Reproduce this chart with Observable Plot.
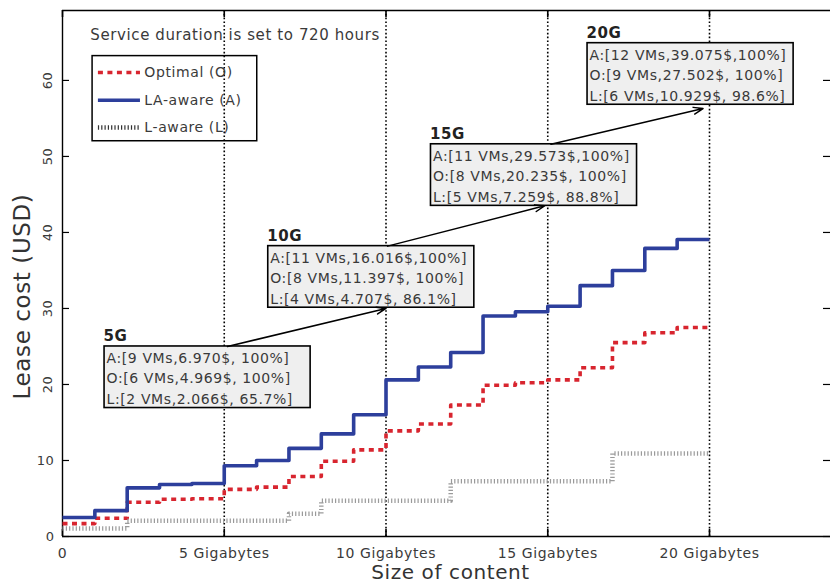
<!DOCTYPE html>
<html><head><meta charset="utf-8">
<script src="https://cdn.jsdelivr.net/npm/d3@7"></script>
<script src="https://cdn.jsdelivr.net/npm/@observablehq/plot@0.6"></script>
<style>
body{margin:0;background:#fff;}
#chart svg{display:block;}
</style></head><body><div id="chart"></div>
<script>
// ---- data ----
const contentSizes = [0,1,2,3,4,5,6,7,8,9,10,11,12,13,14,15,16,17,18,19,20]; // Gigabytes
// lease cost (USD) held on each 1-GB step [k, k+1)
const costOptimal = [1.7, 2.4, 4.5, 4.9, 4.969, 6.2, 6.5, 7.9, 9.9, 11.397, 13.9, 14.8, 17.3, 19.9, 20.235, 20.6, 22.2, 25.5, 26.8, 27.502];
const costLAaware = [2.5, 3.4, 6.4, 6.85, 6.97, 9.3, 10.0, 11.6, 13.5, 16.016, 20.6, 22.3, 24.2, 29.0, 29.573, 30.3, 33.0, 35.0, 37.9, 39.075];
const costLaware  = [1.05, 1.05, 2.066, 2.066, 2.066, 2.066, 2.066, 3.0, 4.707, 4.707, 4.707, 4.707, 7.259, 7.259, 7.259, 7.259, 7.259, 10.929, 10.929, 10.929];
const seriesNames = ["Optimal (O)", "LA-aware (A)", "L-aware (L)"];

const xTickValues = [0, 5, 10, 15, 20];
const xTickLabels = ["0", "5 Gigabytes", "10 Gigabytes", "15 Gigabytes", "20 Gigabytes"];
const yTickValues = [0, 10, 20, 30, 40, 50, 60];

const noteTitle = "Service duration is set to 720 hours";
const annotLabels = ["5G", "10G", "15G", "20G"];
const annotA = ["A:[9 VMs,6.970$, 100%]", "A:[11 VMs,16.016$,100%]", "A:[11 VMs,29.573$,100%]", "A:[12 VMs,39.075$,100%]"];
const annotO = ["O:[6 VMs,4.969$, 100%]", "O:[8 VMs,11.397$, 100%]", "O:[8 VMs,20.235$, 100%]", "O:[9 VMs,27.502$, 100%]"];
const annotL = ["L:[2 VMs,2.066$, 65.7%]", "L:[4 VMs,4.707$, 86.1%]", "L:[5 VMs,7.259$, 88.8%]", "L:[6 VMs,10.929$, 98.6%]"];

// ---- layout (annotation placement in data units) ----
const boxLeft = [1.3, 6.36, 11.39, 16.23];
const boxTop = [25.0, 38.2, 51.6, 64.9];
const boxW = 6.37, boxH = 8.1;
const arrowFrom = [[5.1, 25.0], [10.05, 38.2], [15.1, 51.6]];
const arrowTo = [[10.0, 30.0], [14.9, 43.5], [19.8, 56.3]];
const xMax = 23.74, yMax = 69.2;

const styles = {
  "Optimal (O)": {stroke: "#d8252f", strokeWidth: 3.6, strokeDasharray: "5,4.5", strokeLinecap: "butt"},
  "LA-aware (A)": {stroke: "#2d3f9c", strokeWidth: 3.6, strokeLinecap: "butt"},
  "L-aware (L)": {stroke: "#9a9a9a", strokeWidth: 4.5, strokeDasharray: "1.2,2.1", strokeLinecap: "butt"}
};

function steps(vals) {
  const pts = vals.map((v, i) => ({x: contentSizes[i], y: v}));
  pts.push({x: contentSizes[vals.length], y: vals[vals.length - 1]});
  return pts;
}
const seriesData = {
  "Optimal (O)": steps(costOptimal),
  "LA-aware (A)": steps(costLAaware),
  "L-aware (L)": steps(costLaware)
};

const boxes = annotLabels.map((lab, i) => ({
  label: lab, x1: boxLeft[i], x2: boxLeft[i] + boxW, y1: boxTop[i] - boxH, y2: boxTop[i],
  text: [annotA[i], annotO[i], annotL[i]].join("\n")
}));
const arrows = arrowFrom.map((f, i) => ({x1: f[0], y1: f[1], x2: arrowTo[i][0], y2: arrowTo[i][1]}));

const legendRows = [61.05, 57.4, 53.8];
const legendItems = seriesNames.map((n, i) => ({name: n, y: legendRows[i]}));

const txt = "#3a3a3a";
const font = "DejaVu Sans";

const chart = Plot.plot({
  width: 830, height: 582,
  marginLeft: 62, marginRight: 0, marginTop: 10, marginBottom: 46,
  x: {domain: [0, xMax], axis: null},
  y: {domain: [0, yMax], axis: null},
  style: {fontFamily: font, background: "white", letterSpacing: "0.6px"},
  marks: [
    // dotted vertical grid
    Plot.ruleX(xTickValues.slice(1), {stroke: "black", strokeWidth: 1.6, strokeDasharray: "1.6,2.2"}),
    // frame (left, bottom, top)
    Plot.ruleX([0], {stroke: "black", strokeWidth: 1.4}),
    Plot.ruleY([0, yMax], {stroke: "black", strokeWidth: 1.4}),
    // inward ticks
    Plot.tickY(yTickValues, {y: d => d, insetRight: 761, stroke: "black", strokeWidth: 1.2}),
    Plot.tickY(yTickValues, {y: d => d, insetLeft: 761, stroke: "black", strokeWidth: 1.2}),
    Plot.tickX(xTickValues, {x: d => d, insetTop: 519, stroke: "black", strokeWidth: 1.6}),
    Plot.tickX(xTickValues, {x: d => d, insetBottom: 519, stroke: "black", strokeWidth: 1.6}),
    // tick labels
    Plot.text(xTickValues, {x: d => d, frameAnchor: "bottom", dy: 21, text: (d, i) => xTickLabels[i], fontSize: 14, fill: txt}),
    Plot.text(yTickValues.filter(d => d <= 10), {y: d => d, frameAnchor: "left", dx: -8, textAnchor: "end", text: d => String(d), fontSize: 13, fill: txt}),
    Plot.text(yTickValues.filter(d => d > 10), {y: d => d, frameAnchor: "left", dx: -15, rotate: -90, textAnchor: "middle", text: d => String(d), fontSize: 13, fill: txt}),
    // axis titles
    Plot.text(["Lease cost (USD)"], {frameAnchor: "left", dx: -40, dy: 23, rotate: -90, textAnchor: "middle", fontSize: 23, fill: "#333"}),
    Plot.text(["Size of content"], {frameAnchor: "bottom", dx: 4, dy: 42, fontSize: 20, fill: "#333"}),
    // note + legend
    Plot.text([noteTitle], {x: 0.86, y: 65.9, textAnchor: "start", fontSize: 15, fill: txt}),
    Plot.rect([{}], {x1: 0.93, x2: 6.02, y1: 52.0, y2: 63.2, fill: "none", stroke: "black", strokeWidth: 1.5}),
    ...legendItems.map(it => Plot.ruleY([it], {y: "y", x1: 1.11, x2: 2.41, ...styles[it.name],
      stroke: it.name === "L-aware (L)" ? "#333" : styles[it.name].stroke})),
    Plot.text(legendItems, {x: 2.53, y: "y", text: "name", textAnchor: "start", fontSize: 14, fill: txt}),
    // series
    ...seriesNames.map(n => Plot.line(seriesData[n], {x: "x", y: "y", curve: "step-after", ...styles[n]})),
    // annotations
    Plot.rect(boxes, {x1: "x1", x2: "x2", y1: "y1", y2: "y2", fill: "#efefef", stroke: "black", strokeWidth: 1.6}),
    Plot.text(boxes, {x: "x1", y: "y2", text: "text", textAnchor: "start", lineAnchor: "top", lineHeight: 1.46, dx: 2, dy: 2, fontSize: 14, fill: txt}),
    Plot.text(boxes, {x: "x1", y: "y2", text: "label", textAnchor: "start", dx: -1, dy: -10, fontSize: 15, fontWeight: "bold", fill: "#222"}),
    Plot.arrow(arrows, {x1: "x1", y1: "y1", x2: "x2", y2: "y2", stroke: "black", strokeWidth: 1.5, headLength: 10, headAngle: 40})
  ]
});
document.getElementById("chart").append(chart);
</script>
</body></html>
